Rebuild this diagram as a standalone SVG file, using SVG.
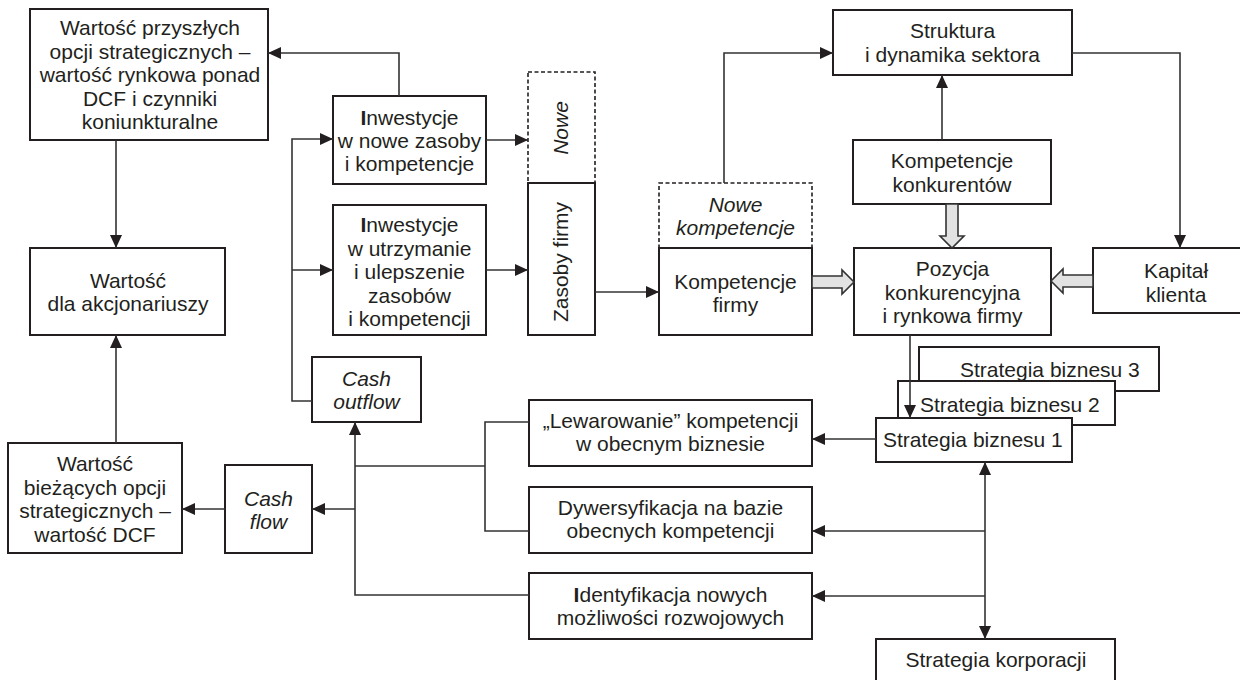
<svg xmlns="http://www.w3.org/2000/svg" width="1240" height="680" viewBox="0 0 1240 680">
<defs>
<style>
.box{fill:#fff;stroke:#231f20;stroke-width:2}
.dash{fill:#fff;stroke:#231f20;stroke-width:1.6;stroke-dasharray:4 2.5}
.t{font-family:"Liberation Sans",Arial,sans-serif;font-size:21px;fill:#231f20;text-anchor:middle}
.i{font-style:italic}
.b{font-weight:bold}
.ln{fill:none;stroke:#333;stroke-width:1.6}
.hol{fill:#e2e2e2;stroke:#333;stroke-width:1.6}
</style>
<marker id="ah" viewBox="0 0 13 12" refX="13" refY="6" markerWidth="13" markerHeight="12" markerUnits="userSpaceOnUse" orient="auto-start-reverse">
<path d="M0,0 L13,6 L0,12 z" fill="#231f20"/>
</marker>
</defs>

<g id="n-przyszle">
<rect class="box" x="30" y="9" width="238" height="131"/>
<text class="t"><tspan x="150" y="35">Wartość przyszłych</tspan><tspan x="150" y="58.5">opcji strategicznych –</tspan><tspan x="150" y="82">wartość rynkowa ponad</tspan><tspan x="150" y="105.5">DCF i czynniki</tspan><tspan x="150" y="129">koniunkturalne</tspan></text>
</g>
<g id="n-akcjonariusze">
<rect class="box" x="30" y="248" width="195" height="87"/>
<text class="t"><tspan x="128" y="287.5">Wartość</tspan><tspan x="128" y="311">dla akcjonariuszy</tspan></text>
</g>
<g id="n-biezace">
<rect class="box" x="8" y="443" width="174" height="110"/>
<text class="t"><tspan x="95" y="471">Wartość</tspan><tspan x="95" y="494.5">bieżących opcji</tspan><tspan x="95" y="518">strategicznych –</tspan><tspan x="95" y="541.5">wartość DCF</tspan></text>
</g>
<g id="n-cashflow">
<rect class="box" x="225" y="465" width="87" height="88"/>
<text class="t i"><tspan x="268.5" y="506">Cash</tspan><tspan x="268.5" y="529">flow</tspan></text>
</g>
<g id="n-cashoutflow">
<rect class="box" x="312" y="357" width="109" height="65"/>
<text class="t i"><tspan x="366.5" y="385.5">Cash</tspan><tspan x="366.5" y="408.5">outflow</tspan></text>
</g>
<g id="n-inw-nowe">
<rect class="box" x="333" y="96" width="153" height="88"/>
<text class="t"><tspan x="409.5" y="125"><tspan class="b">I</tspan>nwestycje</tspan><tspan x="409.5" y="147.5">w nowe zasoby</tspan><tspan x="409.5" y="170.5">i kompetencje</tspan></text>
</g>
<g id="n-inw-utrzymanie">
<rect class="box" x="333" y="205" width="153" height="130"/>
<text class="t"><tspan x="409.5" y="232"><tspan class="b">I</tspan>nwestycje</tspan><tspan x="409.5" y="255.5">w utrzymanie</tspan><tspan x="409.5" y="279">i ulepszenie</tspan><tspan x="409.5" y="302.5">zasobów</tspan><tspan x="409.5" y="326">i kompetencji</tspan></text>
</g>
<g id="n-nowe">
<rect class="dash" x="528" y="72" width="67" height="111"/>
<text class="t i" transform="translate(568,128) rotate(-90)" x="0" y="0">Nowe</text>
</g>
<g id="n-zasoby">
<rect class="box" x="528" y="183" width="67" height="152"/>
<text class="t" transform="translate(568,262) rotate(-90)" x="0" y="0">Zasoby firmy</text>
</g>
<g id="n-nowe-komp">
<rect class="dash" x="659" y="183" width="153" height="65"/>
<text class="t i"><tspan x="735.5" y="212">Nowe</tspan><tspan x="735.5" y="235">kompetencje</tspan></text>
</g>
<g id="n-komp-firmy">
<rect class="box" x="659" y="248" width="153" height="87"/>
<text class="t"><tspan x="735.5" y="289">Kompetencje</tspan><tspan x="735.5" y="312">firmy</tspan></text>
</g>
<g id="n-struktura">
<rect class="box" x="833" y="10" width="239" height="65"/>
<text class="t"><tspan x="952.5" y="38">Struktura</tspan><tspan x="952.5" y="61.5">i dynamika sektora</tspan></text>
</g>
<g id="n-komp-konk">
<rect class="box" x="853" y="140" width="198" height="64"/>
<text class="t"><tspan x="952" y="168">Kompetencje</tspan><tspan x="952" y="191.5">konkurentów</tspan></text>
</g>
<g id="n-pozycja">
<rect class="box" x="854" y="248" width="197" height="87"/>
<text class="t"><tspan x="952.5" y="276">Pozycja</tspan><tspan x="952.5" y="299.5">konkurencyjna</tspan><tspan x="952.5" y="323">i rynkowa firmy</tspan></text>
</g>
<g id="n-kapital">
<rect class="box" x="1093" y="248" width="152" height="65"/>
<text class="t"><tspan x="1176" y="277.5">Kapitał</tspan><tspan x="1176" y="301.5">klienta</tspan></text>
</g>
<g id="n-strat3">
<rect class="box" x="919" y="347" width="240" height="44"/>
<text class="t" x="960" y="377" style="text-anchor:start">Strategia biznesu 3</text>
</g>
<g id="n-strat2">
<rect class="box" x="898" y="381" width="217" height="44"/>
<text class="t" x="920" y="412" style="text-anchor:start">Strategia biznesu 2</text>
</g>
<g id="n-strat1">
<rect class="box" x="876" y="418" width="196" height="44"/>
<text class="t" x="883" y="447" style="text-anchor:start">Strategia biznesu 1</text>
</g>
<g id="n-lewarowanie">
<rect class="box" x="529" y="400" width="283" height="66"/>
<text class="t"><tspan x="670.5" y="428">„Lewarowanie” kompetencji</tspan><tspan x="670.5" y="451">w obecnym biznesie</tspan></text>
</g>
<g id="n-dywersyfikacja">
<rect class="box" x="529" y="487" width="283" height="66"/>
<text class="t"><tspan x="670.5" y="515">Dywersyfikacja na bazie</tspan><tspan x="670.5" y="538">obecnych kompetencji</tspan></text>
</g>
<g id="n-identyfikacja">
<rect class="box" x="529" y="573" width="283" height="66"/>
<text class="t"><tspan x="670.5" y="602"><tspan class="b">I</tspan>dentyfikacja nowych</tspan><tspan x="670.5" y="625">możliwości rozwojowych</tspan></text>
</g>
<g id="n-korporacja">
<rect class="box" x="876" y="639" width="239" height="60"/>
<text class="t" x="996" y="667">Strategia korporacji</text>
</g>

<g id="connectors">
<path class="ln" d="M399,96 V53 H268" marker-end="url(#ah)"/>
<path class="ln" d="M116,140 V248" marker-end="url(#ah)"/>
<path class="ln" d="M116,443 V335" marker-end="url(#ah)"/>
<path class="ln" d="M225,509 H182" marker-end="url(#ah)"/>
<path class="ln" d="M529,595 H355 V422" marker-end="url(#ah)"/>
<path class="ln" d="M355,509 H312" marker-end="url(#ah)"/>
<path class="ln" d="M355,466 H485"/>
<path class="ln" d="M529,422 H485 V531 H529"/>
<path class="ln" d="M312,401 H292 V139 H333" marker-end="url(#ah)"/>
<path class="ln" d="M292,270 H333" marker-end="url(#ah)"/>
<path class="ln" d="M486,140 H528" marker-end="url(#ah)"/>
<path class="ln" d="M486,270 H528" marker-end="url(#ah)"/>
<path class="ln" d="M595,292 H659" marker-end="url(#ah)"/>
<path class="ln" d="M724,183 V53 H833" marker-end="url(#ah)"/>
<path class="ln" d="M942,140 V75" marker-end="url(#ah)"/>
<path class="ln" d="M1072,53 H1180 V248" marker-end="url(#ah)"/>
<path class="ln" d="M910,335 V418" marker-end="url(#ah)"/>
<path class="ln" d="M876,439 H812" marker-end="url(#ah)"/>
<path class="ln" d="M985,462 V639" marker-start="url(#ah)" marker-end="url(#ah)"/>
<path class="ln" d="M985,531 H812" marker-end="url(#ah)"/>
<path class="ln" d="M985,596 H812" marker-end="url(#ah)"/>
<polygon class="hol" points="946,204 958,204 958,236 964,236 952,248 940,236 946,236"/>
<polygon class="hol" points="812,276 842,276 842,270 854,282 842,294 842,288 812,288"/>
<polygon class="hol" points="1093,275 1063,275 1063,269 1051,281 1063,293 1063,287 1093,287"/>
</g>
</svg>
